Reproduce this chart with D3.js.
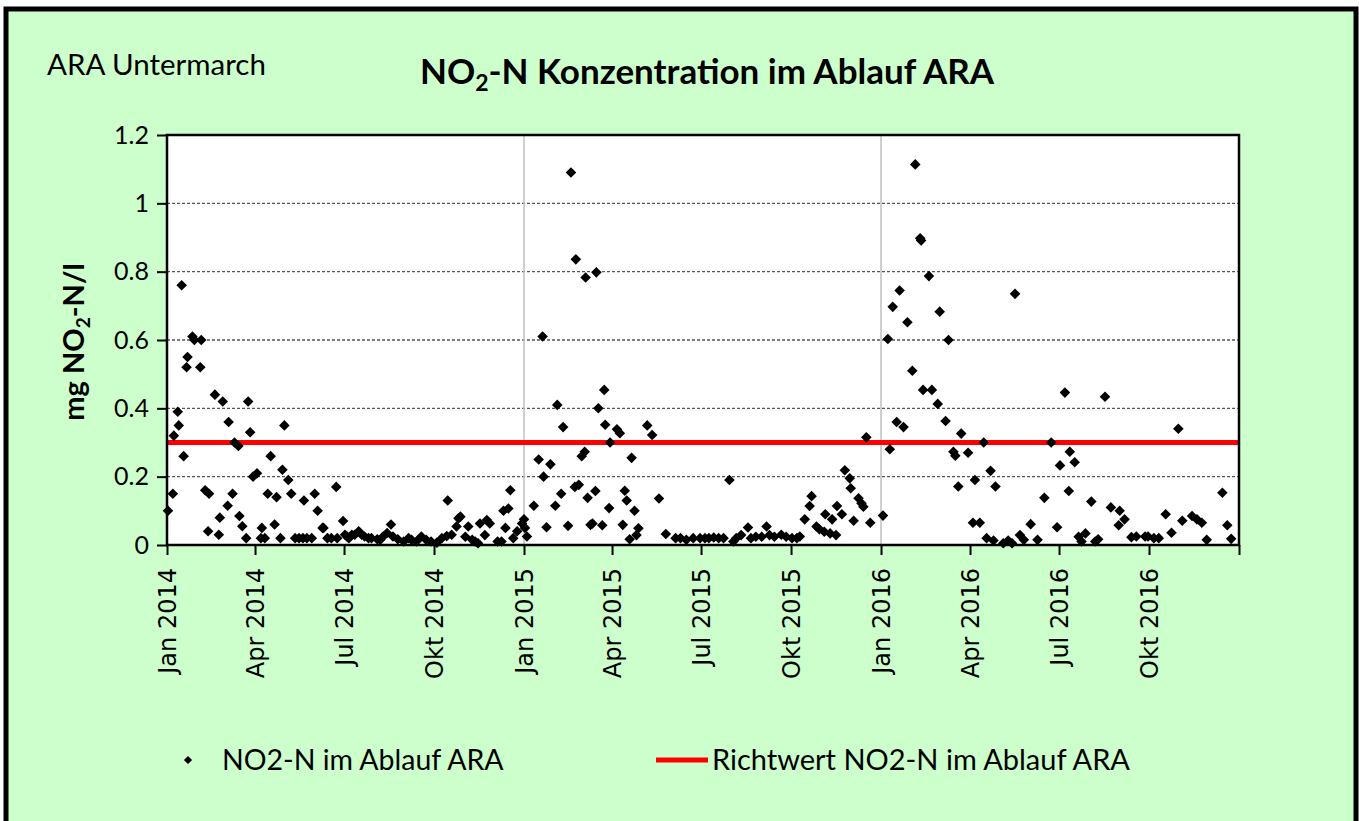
<!DOCTYPE html>
<html>
<head>
<meta charset="utf-8">
<script src="https://cdn.jsdelivr.net/npm/d3@7"></script>
<style>
  body { margin: 0; background: #fff; }
</style>
</head>
<body>
<div id="chart"></div>
<script>
// Messwerte NO2-N im Ablauf (Datum, mg/l)
var sampleDates = [
  "2014-01-02","2014-01-07","2014-01-08","2014-01-12","2014-01-13","2014-01-16","2014-01-18","2014-01-21","2014-01-22","2014-01-27","2014-01-29",
  "2014-02-04","2014-02-05","2014-02-09","2014-02-12","2014-02-13","2014-02-19","2014-02-23","2014-02-24","2014-02-27",
  "2014-03-04","2014-03-05","2014-03-09","2014-03-11","2014-03-15","2014-03-16","2014-03-19","2014-03-23","2014-03-25","2014-03-27","2014-03-30",
  "2014-04-03","2014-04-07","2014-04-08","2014-04-11","2014-04-14","2014-04-17","2014-04-21","2014-04-23","2014-04-27","2014-04-29",
  "2014-05-01","2014-05-05","2014-05-08","2014-05-12","2014-05-16","2014-05-20","2014-05-21","2014-05-24","2014-05-29",
  "2014-06-01","2014-06-04","2014-06-09","2014-06-10","2014-06-14","2014-06-18","2014-06-23","2014-06-24","2014-06-30",
  "2014-07-02","2014-07-04","2014-07-06","2014-07-09","2014-07-12","2014-07-16","2014-07-19","2014-07-22","2014-07-26","2014-07-29",
  "2014-08-04","2014-08-07","2014-08-10","2014-08-14","2014-08-18","2014-08-20","2014-08-25","2014-08-31",
  "2014-09-05","2014-09-08","2014-09-13","2014-09-18","2014-09-23","2014-09-28",
  "2014-10-04","2014-10-09","2014-10-14","2014-10-15","2014-10-19","2014-10-24","2014-10-26","2014-10-28",
  "2014-11-02","2014-11-05","2014-11-09","2014-11-12","2014-11-15","2014-11-17","2014-11-22","2014-11-24","2014-11-27",
  "2014-12-05","2014-12-09","2014-12-11","2014-12-13","2014-12-16","2014-12-18","2014-12-21","2014-12-25","2014-12-30",
  "2015-01-01","2015-01-02","2015-01-04","2015-01-11","2015-01-16","2015-01-20","2015-01-21","2015-01-24","2015-01-28",
  "2015-02-02","2015-02-04","2015-02-08","2015-02-10","2015-02-15","2015-02-18","2015-02-22","2015-02-23","2015-02-26",
  "2015-03-01","2015-03-04","2015-03-05","2015-03-07","2015-03-10","2015-03-12","2015-03-15","2015-03-16","2015-03-18","2015-03-22","2015-03-24","2015-03-25","2015-03-29","2015-03-30",
  "2015-04-06","2015-04-09","2015-04-12","2015-04-14","2015-04-16","2015-04-19","2015-04-21","2015-04-24","2015-04-26","2015-04-28",
  "2015-05-07","2015-05-12","2015-05-19","2015-05-26",
  "2015-06-05","2015-06-10","2015-06-16","2015-06-23","2015-06-30",
  "2015-07-05","2015-07-09","2015-07-14","2015-07-19","2015-07-24","2015-07-30",
  "2015-08-03","2015-08-06","2015-08-11","2015-08-18","2015-08-21","2015-08-26",
  "2015-09-01","2015-09-06","2015-09-09","2015-09-14","2015-09-21","2015-09-26",
  "2015-10-02","2015-10-07","2015-10-10","2015-10-15","2015-10-20","2015-10-22","2015-10-27","2015-10-30",
  "2015-11-04","2015-11-05","2015-11-10","2015-11-12","2015-11-16","2015-11-17","2015-11-22","2015-11-25","2015-11-30",
  "2015-12-01","2015-12-04","2015-12-09","2015-12-12","2015-12-14","2015-12-17","2015-12-21",
  "2016-01-03","2016-01-08","2016-01-10","2016-01-13","2016-01-17","2016-01-20","2016-01-24","2016-01-28",
  "2016-02-02","2016-02-05","2016-02-10","2016-02-11","2016-02-13","2016-02-19","2016-02-22","2016-02-28",
  "2016-03-01","2016-03-07","2016-03-10","2016-03-15","2016-03-17","2016-03-20","2016-03-23","2016-03-30",
  "2016-04-04","2016-04-06","2016-04-11","2016-04-15","2016-04-18","2016-04-22","2016-04-25","2016-04-27",
  "2016-05-05","2016-05-10","2016-05-14","2016-05-17","2016-05-22","2016-05-26",
  "2016-06-02","2016-06-09","2016-06-16","2016-06-23","2016-06-29",
  "2016-07-02","2016-07-07","2016-07-11","2016-07-12","2016-07-17","2016-07-21","2016-07-24","2016-07-28",
  "2016-08-03","2016-08-07","2016-08-10","2016-08-17","2016-08-23","2016-08-31",
  "2016-09-01","2016-09-06","2016-09-13","2016-09-18","2016-09-27","2016-09-30",
  "2016-10-06","2016-10-11","2016-10-18","2016-10-24","2016-10-31",
  "2016-11-04","2016-11-14","2016-11-19","2016-11-24","2016-11-29",
  "2016-12-15","2016-12-20","2016-12-24"
];
var no2Values = [
  0.10,0.15,0.32,0.39,0.35,0.76,0.26,0.52,0.55,0.61,0.60,
  0.52,0.60,0.16,0.04,0.15,0.44,0.03,0.08,0.42,
  0.115,0.36,0.15,0.30,0.29,0.085,0.055,0.02,0.42,0.33,0.20,
  0.21,0.02,0.05,0.02,0.15,0.26,0.06,0.14,0.02,0.22,
  0.35,0.19,0.15,0.02,0.02,0.02,0.13,0.02,0.02,
  0.15,0.10,0.05,0.05,0.02,0.02,0.17,0.02,0.07,
  0.03,0.025,0.02,0.03,0.03,0.04,0.03,0.025,0.02,0.02,
  0.017,0.015,0.025,0.035,0.06,0.025,0.017,0.01,
  0.02,0.015,0.01,0.025,0.015,0.01,
  0.007,0.02,0.026,0.13,0.03,0.054,0.078,0.083,
  0.024,0.054,0.015,0.01,0.005,0.063,0.029,0.073,0.063,
  0.01,0.01,0.10,0.05,0.107,0.16,0.02,0.04,0.063,
  0.075,0.05,0.025,0.115,0.25,0.61,0.20,0.052,0.236,
  0.115,0.41,0.15,0.345,0.056,1.09,0.17,0.836,0.176,
  0.26,0.273,0.783,0.138,0.059,0.063,0.158,0.798,0.40,0.058,0.454,0.352,0.108,0.30,
  0.339,0.327,0.059,0.159,0.13,0.017,0.255,0.10,0.029,0.049,
  0.35,0.322,0.136,0.032,
  0.02,0.02,0.015,0.02,0.02,
  0.02,0.02,0.022,0.02,0.02,0.19,
  0.01,0.02,0.029,0.051,0.02,0.024,
  0.024,0.054,0.029,0.024,0.03,0.024,
  0.02,0.02,0.025,0.075,0.114,0.143,0.054,0.046,
  0.039,0.09,0.034,0.075,0.029,0.114,0.09,0.219,0.195,
  0.166,0.071,0.137,0.122,0.112,0.315,0.065,
  0.086,0.603,0.28,0.697,0.36,0.745,0.345,0.652,
  0.51,1.114,0.898,0.891,0.454,0.787,0.454,0.413,
  0.683,0.363,0.60,0.273,0.261,0.171,0.326,0.27,
  0.065,0.19,0.065,0.30,0.02,0.217,0.013,0.171,
  0.005,0.013,0.005,0.735,0.029,0.015,
  0.061,0.015,0.138,0.30,0.052,
  0.233,0.446,0.158,0.273,0.242,0.024,0.01,0.034,
  0.127,0.01,0.017,0.434,0.11,0.058,
  0.10,0.075,0.023,0.025,0.025,0.025,
  0.02,0.02,0.09,0.036,0.34,
  0.071,0.085,0.075,0.065,0.015,
  0.153,0.058,0.018
];
var limitValue = 0.3; // Richtwert
var yTicks = [0, 0.2, 0.4, 0.6, 0.8, 1, 1.2];
var monthNames = ["Jan", "Feb", "Mär", "Apr", "Mai", "Jun", "Jul", "Aug", "Sep", "Okt", "Nov", "Dez"];
var yearLines = ["2015-01-01", "2016-01-01"];
var xStart = "2014-01-01", xEnd = "2017-01-01";

var W = 1359, H = 821;
// (nicht "top" nennen, kollidiert mit window.top)
var plotLeft = 167, plotRight = 1239, plotTop = 135, plotBottom = 545;
var parse = d3.timeParse("%Y-%m-%d");
var labelFont = "Lato, 'Open Sans', sans-serif";
var tickFont = "'DejaVu Sans', Verdana, sans-serif";

var svg = d3.select("#chart").append("svg")
    .attr("width", W)
    .attr("height", H)
    .style("font-family", labelFont);

// Hintergrund + Rahmen
svg.append("rect")
    .attr("x", 6).attr("y", 9)
    .attr("width", 1350).attr("height", 840)
    .attr("fill", "#ccffcc")
    .attr("stroke", "#000")
    .attr("stroke-width", 5);

var x = d3.scaleTime()
    .domain([parse(xStart), parse(xEnd)])
    .range([plotLeft, plotRight]);
var y = d3.scaleLinear()
    .domain([0, 1.2])
    .range([plotBottom, plotTop]);

// plot area
svg.append("rect")
    .attr("x", plotLeft).attr("y", plotTop)
    .attr("width", plotRight - plotLeft).attr("height", plotBottom - plotTop)
    .attr("fill", "#fff");

// horizontal grid (gestrichelt)
svg.append("g").selectAll("line")
    .data(yTicks.filter(function(d) { return d > 0 && d < 1.2; }))
    .enter().append("line")
    .attr("x1", plotLeft).attr("x2", plotRight)
    .attr("y1", function(d) { return y(d); })
    .attr("y2", function(d) { return y(d); })
    .attr("stroke", "#555")
    .attr("stroke-width", 1.3)
    .attr("stroke-dasharray", "3,2");

// vertikale Linien bei Jahreswechsel
svg.append("g").selectAll("line")
    .data(yearLines)
    .enter().append("line")
    .attr("x1", function(d) { return x(parse(d)); })
    .attr("x2", function(d) { return x(parse(d)); })
    .attr("y1", plotTop).attr("y2", plotBottom)
    .attr("stroke", "#c0c0c0")
    .attr("stroke-width", 1.5);

// Richtwert Linie
svg.append("line")
    .attr("x1", plotLeft).attr("x2", plotRight)
    .attr("y1", y(limitValue)).attr("y2", y(limitValue))
    .attr("stroke", "#ff0000")
    .attr("stroke-width", 5);

// Messpunkte (Rauten)
var diamond = d3.symbol().type(d3.symbolSquare).size(56);
svg.append("g").selectAll("path")
    .data(no2Values)
    .enter().append("path")
    .attr("d", diamond)
    .attr("transform", function(d, i) {
        return "translate(" + x(parse(sampleDates[i])) + "," + y(d) + ") rotate(45)";
    })
    .attr("fill", "#000");

// Rahmen plot area
svg.append("rect")
    .attr("x", plotLeft).attr("y", plotTop)
    .attr("width", plotRight - plotLeft).attr("height", plotBottom - plotTop)
    .attr("fill", "none")
    .attr("stroke", "#000")
    .attr("stroke-width", 2.5);

// y Achse
var yAxis = d3.axisLeft(y)
    .tickValues(yTicks)
    .tickSize(10)
    .tickPadding(8)
    .tickFormat(function(d) { return String(d); });
var gy = svg.append("g")
    .attr("transform", "translate(" + plotLeft + ",0)")
    .call(yAxis);
gy.select(".domain").remove();
gy.selectAll("line").attr("stroke", "#000").attr("stroke-width", 2);
gy.selectAll("text")
    .style("font-family", labelFont)
    .style("font-size", "25px")
    .attr("fill", "#000");

// x Achse, Quartale
var xTickDates = d3.timeMonth.every(3).range(parse(xStart), d3.timeDay.offset(parse(xEnd), 1));
var xAxis = d3.axisBottom(x)
    .tickValues(xTickDates)
    .tickSize(10)
    .tickFormat(function(d) {
        if (+d === +parse(xEnd)) return "";
        return monthNames[d.getMonth()] + " " + d.getFullYear();
    });
var gx = svg.append("g")
    .attr("transform", "translate(0," + plotBottom + ")")
    .attr("font-family", tickFont)
    .call(xAxis);
gx.select(".domain").remove();
gx.selectAll("line").attr("stroke", "#000").attr("stroke-width", 2);
gx.selectAll("text")
    .attr("font-family", tickFont)
    .style("font-family", tickFont)
    .style("font-size", "24px")
    .attr("fill", "#000")
    .attr("text-anchor", "end")
    .attr("transform", "translate(0,23) rotate(-90)")
    .attr("x", 0).attr("y", 0)
    .attr("dy", "0.35em");

// Titel
var title = svg.append("text")
    .attr("x", 707).attr("y", 84)
    .attr("text-anchor", "middle")
    .attr("font-weight", "bold")
    .style("font-size", "35px");
title.append("tspan").text("NO");
title.append("tspan").style("font-size", "23px").attr("dy", 7).text("2");
title.append("tspan").attr("dy", -7).text("-N Konzentration im Ablauf ARA");

svg.append("text")
    .attr("x", 47).attr("y", 75)
    .style("font-size", "29.5px")
    .text("ARA Untermarch");

// y Titel
var ytitle = svg.append("text")
    .attr("transform", "translate(84,342) rotate(-90)")
    .attr("text-anchor", "middle")
    .attr("font-weight", "bold")
    .style("font-size", "29px");
ytitle.append("tspan").text("mg NO");
ytitle.append("tspan").style("font-size", "19px").attr("dy", 6).text("2");
ytitle.append("tspan").attr("dy", -6).text("-N/l");

// Legende
var legY = 760;
svg.append("path")
    .attr("d", d3.symbol().type(d3.symbolSquare).size(34))
    .attr("transform", "translate(188," + legY + ") rotate(45)")
    .attr("fill", "#000");
svg.append("text")
    .attr("x", 222).attr("y", legY + 10)
    .style("font-size", "28.5px")
    .text("NO2-N im Ablauf ARA");
svg.append("line")
    .attr("x1", 656).attr("x2", 708)
    .attr("y1", legY).attr("y2", legY)
    .attr("stroke", "#ff0000")
    .attr("stroke-width", 5);
svg.append("text")
    .attr("x", 712).attr("y", legY + 10)
    .style("font-size", "29px")
    .text("Richtwert NO2-N im Ablauf ARA");
</script>
</body>
</html>
